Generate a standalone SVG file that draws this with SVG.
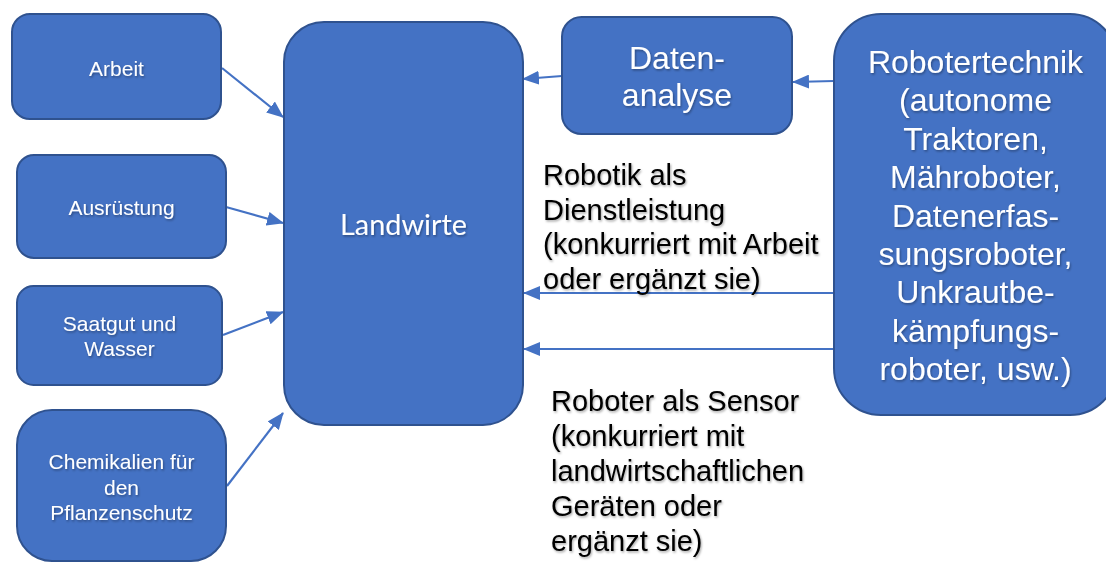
<svg xmlns="http://www.w3.org/2000/svg" width="1106" height="564" viewBox="0 0 1106 564">
<defs>
<style>
.box{fill:#4472C4;stroke:#2F528F;stroke-width:2}
.wt{fill:#FFFFFF;font-family:"Liberation Sans",Arial,sans-serif;text-anchor:middle;filter:url(#sh)}
.bt{fill:#000000;font-family:"Liberation Sans",Arial,sans-serif;font-size:29px;filter:url(#sh)}
.c{stroke:#4472C4;stroke-width:2.2;fill:none;marker-end:url(#ah)}
</style>
<filter id="sh" x="-5%" y="-20%" width="110%" height="140%">
<feDropShadow dx="1" dy="1.5" stdDeviation="1" flood-color="#000" flood-opacity="0.35"/>
</filter>
<marker id="ah" viewBox="0 0 17 14" refX="16" refY="7" markerWidth="17" markerHeight="14" markerUnits="userSpaceOnUse" orient="auto">
<path d="M0,0 L17,7 L0,14 z" fill="#4472C4"/>
</marker>
</defs>
<rect width="1106" height="564" fill="#FFFFFF"/>
<g id="connectors">
<line class="c" x1="222" y1="68" x2="283" y2="117"/>
<line class="c" x1="226" y1="207" x2="283" y2="223"/>
<line class="c" x1="223" y1="335" x2="283" y2="312"/>
<line class="c" x1="227" y1="486" x2="283" y2="413"/>
<line class="c" x1="562" y1="76" x2="523" y2="79"/>
<line class="c" x1="834" y1="81" x2="793" y2="82"/>
<line class="c" x1="834" y1="293" x2="524" y2="293"/>
<line class="c" x1="834" y1="349" x2="524" y2="349"/>
</g>
<g id="arbeit">
<rect class="box" x="12" y="14" width="209" height="105" rx="18"/>
<text class="wt" x="116.5" y="76" font-size="21">Arbeit</text>
</g>
<g id="ausruestung">
<rect class="box" x="17" y="155" width="209" height="103" rx="17"/>
<text class="wt" x="121.5" y="215" font-size="21">Ausrüstung</text>
</g>
<g id="saatgut">
<rect class="box" x="17" y="286" width="205" height="99" rx="16.5"/>
<text class="wt" x="119.5" y="331" font-size="21">Saatgut und</text>
<text class="wt" x="119.5" y="356" font-size="21">Wasser</text>
</g>
<g id="chemikalien">
<rect class="box" x="17" y="410" width="209" height="151" rx="35"/>
<text class="wt" x="121.5" y="469" font-size="21">Chemikalien für</text>
<text class="wt" x="121.5" y="495" font-size="21">den</text>
<text class="wt" x="121.5" y="520" font-size="21">Pflanzenschutz</text>
</g>
<g id="landwirte">
<rect class="box" x="284" y="22" width="239" height="403" rx="40"/>
<text class="wt" x="403.5" y="235" font-size="28" style="font-family:Lato,'Open Sans',sans-serif" textLength="127" lengthAdjust="spacingAndGlyphs">Landwirte</text>
</g>
<g id="datenanalyse">
<rect class="box" x="562" y="17" width="230" height="117" rx="19.5"/>
<text class="wt" x="677" y="69" font-size="32">Daten-</text>
<text class="wt" x="677" y="106" font-size="32">analyse</text>
</g>
<g id="robotertechnik">
<rect class="box" x="834" y="14" width="283" height="401" rx="47"/>
<text class="wt" x="975.5" y="73" font-size="32">Robotertechnik</text>
<text class="wt" x="975.5" y="111.4" font-size="32">(autonome</text>
<text class="wt" x="975.5" y="149.8" font-size="32">Traktoren,</text>
<text class="wt" x="975.5" y="188.2" font-size="32">Mähroboter,</text>
<text class="wt" x="975.5" y="226.6" font-size="32">Datenerfas-</text>
<text class="wt" x="975.5" y="265" font-size="32">sungsroboter,</text>
<text class="wt" x="975.5" y="303.4" font-size="32">Unkrautbe-</text>
<text class="wt" x="975.5" y="341.8" font-size="32">kämpfungs-</text>
<text class="wt" x="975.5" y="380.2" font-size="32">roboter, usw.)</text>
</g>
<g id="label-dienstleistung">
<text class="bt" x="543" y="185">Robotik als</text>
<text class="bt" x="543" y="219.7">Dienstleistung</text>
<text class="bt" x="543" y="254.4">(konkurriert mit Arbeit</text>
<text class="bt" x="543" y="289">oder ergänzt sie)</text>
</g>
<g id="label-sensor">
<text class="bt" x="551" y="411">Roboter als Sensor</text>
<text class="bt" x="551" y="446">(konkurriert mit</text>
<text class="bt" x="551" y="481">landwirtschaftlichen</text>
<text class="bt" x="551" y="516">Geräten oder</text>
<text class="bt" x="551" y="551">ergänzt sie)</text>
</g>
</svg>
